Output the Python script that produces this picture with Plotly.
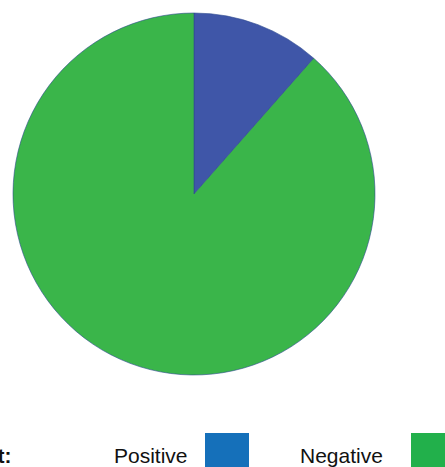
import plotly.graph_objects as go

W, H = 445, 467

# Data
labels = ["Positive", "Negative"]
values = [11.5, 88.5]
pie_colors = ["#3F56A8", "#3AB54A"]
legend_colors = ["#1570BA", "#22B04B"]
legend_title = "Sentiment:"

fig = go.Figure()
fig.add_trace(go.Pie(
    labels=labels,
    values=values,
    sort=False,
    direction="clockwise",
    rotation=0,
    marker=dict(colors=pie_colors, line=dict(color="#2E4A8E", width=0.6)),
    textinfo="none",
    hoverinfo="label+percent",
    showlegend=False,
    domain=dict(x=[13 / W, 375 / W], y=[1 - 375 / H, 1 - 13 / H]),
))

font = dict(family="Liberation Sans, Arial, sans-serif", size=21, color="#111111")

# legend title (cut off at the left edge as in reference)
fig.add_annotation(
    x=14 / W, y=1 - 455 / H, xref="paper", yref="paper",
    text="<b>" + legend_title + "</b>", showarrow=False,
    xanchor="right", yanchor="middle", font=font,
)

text_right = [190, 385]
swatch_x = [(205, 249), (411, 455)]
for lab, col, tr, (sx0, sx1) in zip(labels, legend_colors, text_right, swatch_x):
    fig.add_annotation(
        x=tr / W, y=1 - 455 / H, xref="paper", yref="paper",
        text=lab, showarrow=False, xanchor="right", yanchor="middle", font=font,
    )
    fig.add_shape(
        type="rect", xref="paper", yref="paper",
        x0=sx0 / W, x1=sx1 / W, y0=1 - 480 / H, y1=1 - 433 / H,
        fillcolor=col, line=dict(width=0),
    )

fig.update_layout(
    width=W, height=H,
    margin=dict(l=0, r=0, t=0, b=0),
    paper_bgcolor="white",
    plot_bgcolor="white",
)

fig.write_html(
    "out.html",
    config={"displayModeBar": False},
    post_script="document.body.style.margin='0';document.body.style.overflow='hidden';",
)
